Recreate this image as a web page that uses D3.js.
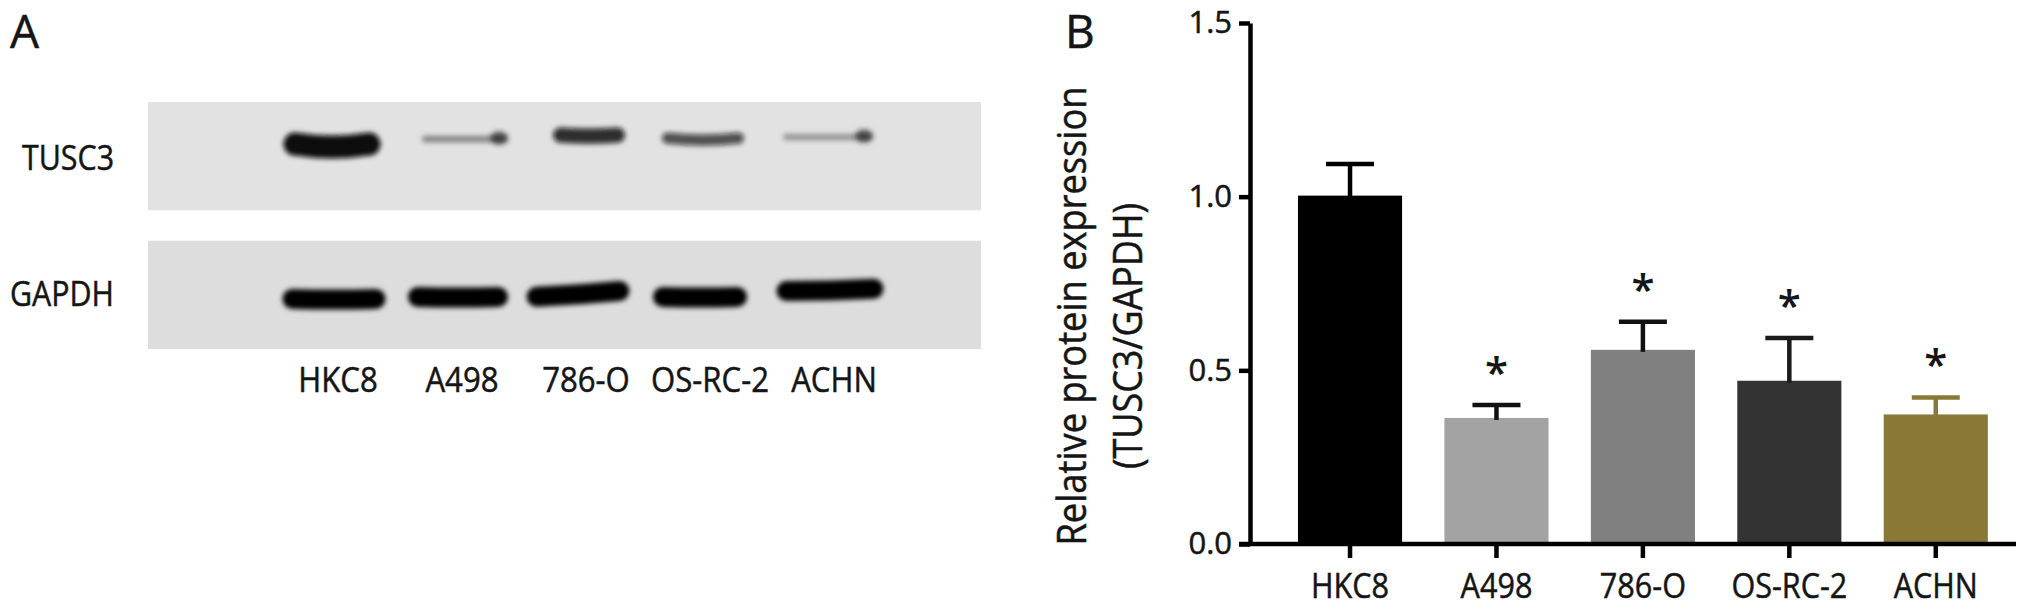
<!DOCTYPE html>
<html>
<head>
<meta charset="utf-8">
<script src="https://cdn.jsdelivr.net/npm/d3@7"></script>
<style>
  html, body { margin:0; padding:0; background:#fff; }
  svg { display:block; }
  text { font-family:"Open Sans", "DejaVu Sans", sans-serif; fill:#151515; }
  .heavy { stroke:#151515; stroke-width:0.5; }
</style>
</head>
<body>
<div id="chart"></div>
<script>
// --- data ---
const cellLines   = ["HKC8", "A498", "786-O", "OS-RC-2", "ACHN"];
const meanExpr    = [1.003, 0.363, 0.559, 0.470, 0.373];
const errExpr     = [0.091, 0.037, 0.081, 0.123, 0.049];
const significant = [false, true, true, true, true];
const yTicks      = [0.0, 0.5, 1.0, 1.5];
const blotRows    = ["TUSC3", "GAPDH"];
const tusc3Signal = [1.0, 0.3, 0.75, 0.6, 0.25];
const gapdhSignal = [1.0, 1.0, 1.0, 1.0, 1.0];

// styles
const barColors = ["#000000", "#a3a3a3", "#808080", "#333333", "#8a7936"];
const errColors = ["#000000", "#111111", "#111111", "#1a1a1a", "#8a7936"];

const width = 2031, height = 614;
const svg = d3.select("#chart").append("svg")
  .attr("width", width).attr("height", height)
  .attr("viewBox", `0 0 ${width} ${height}`);

const defs = svg.append("defs");
defs.append("filter").attr("id", "blur").attr("x", "-20%").attr("y", "-80%")
  .attr("width", "140%").attr("height", "260%")
  .append("feGaussianBlur").attr("stdDeviation", 2.6);

// squeeze a group of labels so that one sample label gets a given width
function fitGroup(sel, sample, target) {
  let k = 1;
  sel.each(function (d) { if (d === sample) k = target / this.getComputedTextLength(); });
  sel.each(function () {
    const w = this.getComputedTextLength();
    d3.select(this).attr("textLength", w * k).attr("lengthAdjust", "spacingAndGlyphs");
  });
}

// band outline with a slight sag in the middle
function bandPath(cx, cy, w, h, sag) {
  const l = cx - w / 2, r = cx + w / 2, t = cy - h / 2, b = cy + h / 2, e = h / 2;
  return `M${l + e},${t} Q${cx},${t + sag} ${r - e},${t} ` +
         `A${e},${e} 0 0 1 ${r - e},${b} Q${cx},${b + sag} ${l + e},${b} ` +
         `A${e},${e} 0 0 1 ${l + e},${t} Z`;
}

// ================= panel A : western blot =================
const A = svg.append("g");
A.append("text").attr("class", "heavy").attr("x", 10).attr("y", 48).attr("font-size", 46).text("A");

const blot = { x0:148, x1:981 };
const rowY = d3.scaleBand().domain(blotRows).range([102, 349]).paddingInner(0.22);
const lane = d3.scalePoint().domain(cellLines).range([338, 834]);

A.selectAll("rect.strip").data(blotRows).join("rect")
  .attr("class", "strip")
  .attr("x", blot.x0).attr("width", blot.x1 - blot.x0)
  .attr("y", d => rowY(d)).attr("height", rowY.bandwidth())
  .attr("fill", (d, i) => i === 0 ? "#e2e2e2" : "#dddddd");

A.selectAll("text.rowlab").data(blotRows).join("text")
  .attr("class", "rowlab heavy")
  .attr("x", (d, i) => i === 0 ? 22 : 10)
  .attr("y", d => rowY(d) + rowY.bandwidth() / 2 + (d === "TUSC3" ? 14 : 11))
  .attr("font-size", 34)
  .text(d => d)
  .call(fitGroup, "GAPDH", 104);

// band layout (per-lane shifts as seen on the film)
const tuscLay  = { dx:[-6, 3, 3, -7, -6], dy:[-12, -17, -21, -18, -19], w:[97, 86, 72, 82, 90], sag:[6, 0, 2, 4, 0] };
const gapdhLay = { dx:[-4, -4, -8, -10, -4], dy:[2, 0, -3, 0, -7], w:[103, 100, 103, 94, 107], rot:[0, 0, -4, 0, -1.5] };

const gT = A.append("g").attr("filter", "url(#blur)");
const tMid = rowY("TUSC3") + rowY.bandwidth() / 2;
gT.selectAll("path").data(cellLines).join("path")
  .each(function (d, i) {
    const s = tusc3Signal[i];
    const h = 5 + 18 * s * s;
    const cx = lane(d) + tuscLay.dx[i], cy = tMid + tuscLay.dy[i];
    d3.select(this)
      .attr("d", bandPath(cx, cy, tuscLay.w[i], h, tuscLay.sag[i]))
      .attr("fill", "#0a0a0a").attr("opacity", Math.min(1, 0.1 + s));
  });
// faint lanes show a darker spot at the right end of the band
gT.selectAll("ellipse").data(cellLines.filter((d, i) => tusc3Signal[i] < 0.4)).join("ellipse")
  .attr("cx", d => { const i = cellLines.indexOf(d); return lane(d) + tuscLay.dx[i] + tuscLay.w[i] / 2 - 9; })
  .attr("cy", d => { const i = cellLines.indexOf(d); return tMid + tuscLay.dy[i] - 1; })
  .attr("rx", 9).attr("ry", 6.5).attr("fill", "#222").attr("opacity", 0.75);

const gG = A.append("g").attr("filter", "url(#blur)");
const gMid = rowY("GAPDH") + rowY.bandwidth() / 2;
gG.selectAll("path").data(cellLines).join("path")
  .each(function (d, i) {
    const h = 20 * gapdhSignal[i];
    const cx = lane(d) + gapdhLay.dx[i], cy = gMid + 2 + gapdhLay.dy[i];
    d3.select(this)
      .attr("d", bandPath(cx, cy, gapdhLay.w[i], h, 1))
      .attr("transform", `rotate(${gapdhLay.rot[i]},${cx},${cy})`)
      .attr("fill", "#050505");
  });

A.selectAll("text.lane").data(cellLines).join("text")
  .attr("class", "lane heavy")
  .attr("x", d => lane(d)).attr("y", 392)
  .attr("text-anchor", "middle").attr("font-size", 34)
  .text(d => d)
  .call(fitGroup, "OS-RC-2", 118);

// ================= panel B : bar chart =================
const B = svg.append("g");
B.append("text").attr("class", "heavy").attr("x", 1065).attr("y", 48).attr("font-size", 46).text("B");

const axisX = 1250, xEnd = 2016;
const y = d3.scaleLinear().domain([0, 1.5]).range([544, 23]);
const x = d3.scaleBand().domain(cellLines).range([axisX, xEnd])
  .paddingInner(0.289).paddingOuter(0.26).align(0.63);

// y axis
const gy = B.append("g").attr("transform", `translate(${axisX},0)`)
  .call(d3.axisLeft(y).tickValues(yTicks).tickFormat(d3.format(".1f"))
    .tickSize(11).tickSizeOuter(0).tickPadding(7));
gy.select(".domain").attr("stroke", "#000").attr("stroke-width", 4.5);
gy.selectAll(".tick line").attr("stroke", "#000").attr("stroke-width", 4.5);
gy.selectAll(".tick text").attr("class", "heavy").attr("font-size", 31).attr("fill", "#151515")
  .attr("font-family", "'Open Sans', sans-serif").call(fitGroup, "1.5", 40);

// bars
B.selectAll("rect.bar").data(cellLines).join("rect")
  .attr("class", "bar")
  .attr("x", d => x(d)).attr("width", x.bandwidth())
  .attr("y", (d, i) => y(meanExpr[i])).attr("height", (d, i) => y(0) - y(meanExpr[i]))
  .attr("fill", (d, i) => barColors[i]);

// error bars (upper only)
const capW = 48;
const eb = B.selectAll("g.err").data(cellLines).join("g").attr("class", "err")
  .attr("stroke", (d, i) => errColors[i]).attr("stroke-width", 4.5);
eb.append("line")
  .attr("x1", d => x(d) + x.bandwidth() / 2).attr("x2", d => x(d) + x.bandwidth() / 2)
  .attr("y1", (d, i) => y(meanExpr[i]) + 2).attr("y2", (d, i) => y(meanExpr[i] + errExpr[i]));
eb.append("line")
  .attr("x1", d => x(d) + x.bandwidth() / 2 - capW / 2).attr("x2", d => x(d) + x.bandwidth() / 2 + capW / 2)
  .attr("y1", (d, i) => y(meanExpr[i] + errExpr[i])).attr("y2", (d, i) => y(meanExpr[i] + errExpr[i]));

// significance stars
B.selectAll("text.star").data(cellLines.filter((d, i) => significant[i])).join("text")
  .attr("class", "star")
  .attr("x", d => x(d) + x.bandwidth() / 2)
  .attr("y", d => { const i = cellLines.indexOf(d); return y(meanExpr[i] + errExpr[i]) - 41 + 23; })
  .attr("text-anchor", "middle").attr("font-size", 42).attr("font-weight", 600)
  .text("*");

// x axis
const gx = B.append("g").attr("transform", `translate(0,${y(0)})`)
  .call(d3.axisBottom(x).tickSize(14).tickSizeOuter(0).tickPadding(16));
gx.select(".domain").remove();
gx.selectAll(".tick line").attr("stroke", "#000").attr("stroke-width", 4.5);
gx.selectAll(".tick text").attr("class", "heavy").attr("font-size", 34).attr("fill", "#151515")
  .attr("font-family", "'Open Sans', sans-serif").call(fitGroup, "HKC8", 78);
B.append("line")
  .attr("x1", axisX - 11).attr("x2", xEnd)
  .attr("y1", y(0)).attr("y2", y(0))
  .attr("stroke", "#000").attr("stroke-width", 4.5);

// y axis title, two lines
B.append("text").attr("class", "heavy")
  .attr("transform", `translate(1086,316) rotate(-90)`)
  .attr("text-anchor", "middle").attr("font-size", 40)
  .attr("textLength", 459).attr("lengthAdjust", "spacingAndGlyphs")
  .text("Relative protein expression");
B.append("text").attr("class", "heavy")
  .attr("transform", `translate(1142,336) rotate(-90)`)
  .attr("text-anchor", "middle").attr("font-size", 40)
  .attr("textLength", 266).attr("lengthAdjust", "spacingAndGlyphs")
  .text("(TUSC3/GAPDH)");
</script>
</body>
</html>
